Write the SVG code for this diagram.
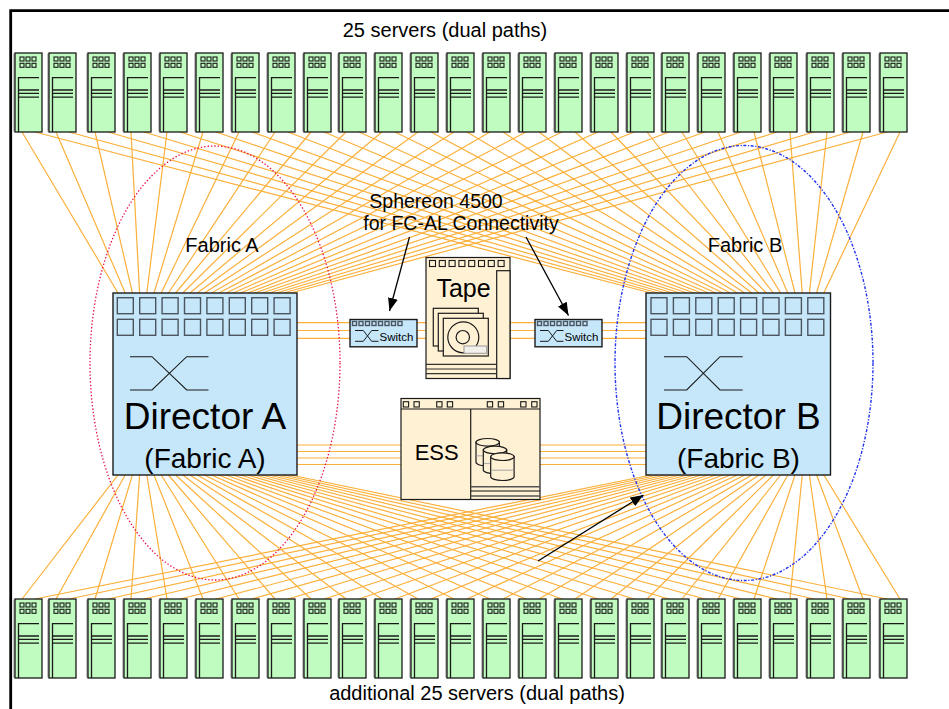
<svg xmlns="http://www.w3.org/2000/svg" xmlns:xlink="http://www.w3.org/1999/xlink" width="949" height="709" viewBox="0 0 949 709">
<style>
  text { font-family: "Liberation Sans", Arial, sans-serif; fill: #000; }
  .link { stroke: #fbb03b; stroke-width: 1.2; fill: none; }
  .srv { fill: #c0fcc0; stroke: #1a1a1a; stroke-width: 1.3; }
  .srvshade { stroke: #9a9a9a; stroke-width: 1.4; }
  .ink { fill: none; stroke: #1a1a1a; stroke-width: 1.1; }
  .dir { fill: #c6e7fa; stroke: #1a1a1a; stroke-width: 1.4; }
  .port { fill: none; stroke: #4a5560; stroke-width: 1.4; }
  .cream { fill: #fff1d4; stroke: #1a1a1a; stroke-width: 1.2; }
  .arrow { stroke: #000; stroke-width: 1.3; fill: none; marker-end: url(#head); }
  .frame { stroke: #000; stroke-width: 2.8; fill: none; }
</style>
<defs>
  <marker id="head" markerUnits="userSpaceOnUse" markerWidth="14" markerHeight="10" refX="13" refY="5" orient="auto">
    <path d="M0,0 L13,5 L0,10 z" fill="#000"/>
  </marker>
  <g id="server">
    <line class="srvshade" x1="-0.9" y1="0.5" x2="-0.9" y2="78.5"/>
    <rect class="srv" x="0" y="0" width="27" height="79"/>
    <g class="ink">
      <rect x="5" y="4" width="4" height="4"/><rect x="11" y="4" width="4" height="4"/><rect x="17" y="4" width="4" height="4"/>
      <rect x="5" y="10.3" width="4" height="4"/><rect x="11" y="10.3" width="4" height="4"/><rect x="17" y="10.3" width="4" height="4"/>
      <path d="M3.5,79 V24.7 H24 M3.5,37 H24 M3.5,40.3 H24 M3.5,44.2 H24" stroke-width="1.3"/>
    </g>
  </g>
  <g id="ports">
    <rect x="0" y="0" width="16" height="16"/><rect x="22.4" y="0" width="16" height="16"/><rect x="44.8" y="0" width="16" height="16"/><rect x="67.2" y="0" width="16" height="16"/>
    <rect x="89.6" y="0" width="16" height="16"/><rect x="112" y="0" width="16" height="16"/><rect x="134.4" y="0" width="16" height="16"/><rect x="156.8" y="0" width="16" height="16"/>
  </g>
  <g id="cylinder">
    <path class="cream" d="M0,0 V20 A11.7,3.8 0 0 0 23.4,20 V0 Z"/>
    <ellipse class="cream" cx="11.7" cy="0" rx="11.7" ry="3.8"/>
    <line x1="0.6" y1="13.5" x2="22.8" y2="13.5" stroke="#b0b0b0" stroke-width="1.2"/>
  </g>
</defs>

<rect width="949" height="709" fill="#fff"/>

<!-- page frame -->
<path class="frame" d="M10.7,709 V10.7 H949"/>

<!-- fibre links: each server to both directors, plus storage links -->
<g id="connectors" class="link">
  <!-- upper servers to Director A / Director B tops -->
  <path d="M22,132L118,293M35,132L651,293"/>
  <path d="M56,132L125.2,293M69,132L658.2,293"/>
  <path d="M95,132L132.4,293M108,132L665.4,293"/>
  <path d="M131,132L139.6,293M144,132L672.6,293"/>
  <path d="M167,132L146.8,293M180,132L679.8,293"/>
  <path d="M203,132L154,293M216,132L687,293"/>
  <path d="M239,132L161.2,293M252,132L694.2,293"/>
  <path d="M275,132L168.4,293M288,132L701.4,293"/>
  <path d="M311,132L175.6,293M324,132L708.6,293"/>
  <path d="M346,132L182.8,293M359,132L715.8,293"/>
  <path d="M382,132L190,293M395,132L723,293"/>
  <path d="M418,132L197.2,293M431,132L730.2,293"/>
  <path d="M454,132L204.4,293M467,132L737.4,293"/>
  <path d="M490,132L211.6,293M503,132L744.6,293"/>
  <path d="M526,132L218.8,293M539,132L751.8,293"/>
  <path d="M562,132L226,293M575,132L759,293"/>
  <path d="M598,132L233.2,293M611,132L766.2,293"/>
  <path d="M634,132L240.4,293M647,132L773.4,293"/>
  <path d="M669,132L247.6,293M682,132L780.6,293"/>
  <path d="M705,132L254.8,293M718,132L787.8,293"/>
  <path d="M741,132L262,293M754,132L795,293"/>
  <path d="M777,132L269.2,293M790,132L802.2,293"/>
  <path d="M814,132L276.4,293M827,132L809.4,293"/>
  <path d="M850,132L283.6,293M863,132L816.6,293"/>
  <path d="M887,132L290.8,293M900,132L823.8,293"/>
  <!-- lower servers to Director A / Director B bottoms -->
  <path d="M22,599L118,475M35,599L651,475"/>
  <path d="M56,599L125.2,475M69,599L658.2,475"/>
  <path d="M95,599L132.4,475M108,599L665.4,475"/>
  <path d="M131,599L139.6,475M144,599L672.6,475"/>
  <path d="M167,599L146.8,475M180,599L679.8,475"/>
  <path d="M203,599L154,475M216,599L687,475"/>
  <path d="M239,599L161.2,475M252,599L694.2,475"/>
  <path d="M275,599L168.4,475M288,599L701.4,475"/>
  <path d="M311,599L175.6,475M324,599L708.6,475"/>
  <path d="M346,599L182.8,475M359,599L715.8,475"/>
  <path d="M382,599L190,475M395,599L723,475"/>
  <path d="M418,599L197.2,475M431,599L730.2,475"/>
  <path d="M454,599L204.4,475M467,599L737.4,475"/>
  <path d="M490,599L211.6,475M503,599L744.6,475"/>
  <path d="M526,599L218.8,475M539,599L751.8,475"/>
  <path d="M562,599L226,475M575,599L759,475"/>
  <path d="M598,599L233.2,475M611,599L766.2,475"/>
  <path d="M634,599L240.4,475M647,599L773.4,475"/>
  <path d="M669,599L247.6,475M682,599L780.6,475"/>
  <path d="M705,599L254.8,475M718,599L787.8,475"/>
  <path d="M741,599L262,475M754,599L795,475"/>
  <path d="M777,599L269.2,475M790,599L802.2,475"/>
  <path d="M814,599L276.4,475M827,599L809.4,475"/>
  <path d="M850,599L283.6,475M863,599L816.6,475"/>
  <path d="M887,599L290.8,475M900,599L823.8,475"/>
  <!-- directors to switches and tape -->
  <path d="M297,322.7H646M297,330.5H646M297,338.3H646"/>
  <!-- directors to ESS -->
  <path d="M297,445H646M297,451.5H646M297,458H646M297,464.5H646"/>
</g>

<!-- fabric outlines -->
<ellipse id="fabric-a-outline" cx="215" cy="363" rx="125" ry="217" fill="none" stroke="#e8104a" stroke-width="1.3" stroke-dasharray="1.4 2"/>
<ellipse id="fabric-b-outline" cx="744" cy="363" rx="129" ry="217.5" fill="none" stroke="#2233ee" stroke-width="1.4" stroke-dasharray="3 1.6 1.2 1.6"/>

<!-- upper server row -->
<g id="servers-top">
  <g id="srv-t01" transform="translate(15,53)"><use xlink:href="#server"/></g>
  <g id="srv-t02" transform="translate(49,53)"><use xlink:href="#server"/></g>
  <g id="srv-t03" transform="translate(88,53)"><use xlink:href="#server"/></g>
  <g id="srv-t04" transform="translate(124,53)"><use xlink:href="#server"/></g>
  <g id="srv-t05" transform="translate(160,53)"><use xlink:href="#server"/></g>
  <g id="srv-t06" transform="translate(196,53)"><use xlink:href="#server"/></g>
  <g id="srv-t07" transform="translate(232,53)"><use xlink:href="#server"/></g>
  <g id="srv-t08" transform="translate(268,53)"><use xlink:href="#server"/></g>
  <g id="srv-t09" transform="translate(304,53)"><use xlink:href="#server"/></g>
  <g id="srv-t10" transform="translate(339,53)"><use xlink:href="#server"/></g>
  <g id="srv-t11" transform="translate(375,53)"><use xlink:href="#server"/></g>
  <g id="srv-t12" transform="translate(411,53)"><use xlink:href="#server"/></g>
  <g id="srv-t13" transform="translate(447,53)"><use xlink:href="#server"/></g>
  <g id="srv-t14" transform="translate(483,53)"><use xlink:href="#server"/></g>
  <g id="srv-t15" transform="translate(519,53)"><use xlink:href="#server"/></g>
  <g id="srv-t16" transform="translate(555,53)"><use xlink:href="#server"/></g>
  <g id="srv-t17" transform="translate(591,53)"><use xlink:href="#server"/></g>
  <g id="srv-t18" transform="translate(627,53)"><use xlink:href="#server"/></g>
  <g id="srv-t19" transform="translate(662,53)"><use xlink:href="#server"/></g>
  <g id="srv-t20" transform="translate(698,53)"><use xlink:href="#server"/></g>
  <g id="srv-t21" transform="translate(734,53)"><use xlink:href="#server"/></g>
  <g id="srv-t22" transform="translate(770,53)"><use xlink:href="#server"/></g>
  <g id="srv-t23" transform="translate(807,53)"><use xlink:href="#server"/></g>
  <g id="srv-t24" transform="translate(843,53)"><use xlink:href="#server"/></g>
  <g id="srv-t25" transform="translate(880,53)"><use xlink:href="#server"/></g>
</g>

<!-- lower server row -->
<g id="servers-bottom">
  <g id="srv-b01" transform="translate(15,599)"><use xlink:href="#server"/></g>
  <g id="srv-b02" transform="translate(49,599)"><use xlink:href="#server"/></g>
  <g id="srv-b03" transform="translate(88,599)"><use xlink:href="#server"/></g>
  <g id="srv-b04" transform="translate(124,599)"><use xlink:href="#server"/></g>
  <g id="srv-b05" transform="translate(160,599)"><use xlink:href="#server"/></g>
  <g id="srv-b06" transform="translate(196,599)"><use xlink:href="#server"/></g>
  <g id="srv-b07" transform="translate(232,599)"><use xlink:href="#server"/></g>
  <g id="srv-b08" transform="translate(268,599)"><use xlink:href="#server"/></g>
  <g id="srv-b09" transform="translate(304,599)"><use xlink:href="#server"/></g>
  <g id="srv-b10" transform="translate(339,599)"><use xlink:href="#server"/></g>
  <g id="srv-b11" transform="translate(375,599)"><use xlink:href="#server"/></g>
  <g id="srv-b12" transform="translate(411,599)"><use xlink:href="#server"/></g>
  <g id="srv-b13" transform="translate(447,599)"><use xlink:href="#server"/></g>
  <g id="srv-b14" transform="translate(483,599)"><use xlink:href="#server"/></g>
  <g id="srv-b15" transform="translate(519,599)"><use xlink:href="#server"/></g>
  <g id="srv-b16" transform="translate(555,599)"><use xlink:href="#server"/></g>
  <g id="srv-b17" transform="translate(591,599)"><use xlink:href="#server"/></g>
  <g id="srv-b18" transform="translate(627,599)"><use xlink:href="#server"/></g>
  <g id="srv-b19" transform="translate(662,599)"><use xlink:href="#server"/></g>
  <g id="srv-b20" transform="translate(698,599)"><use xlink:href="#server"/></g>
  <g id="srv-b21" transform="translate(734,599)"><use xlink:href="#server"/></g>
  <g id="srv-b22" transform="translate(770,599)"><use xlink:href="#server"/></g>
  <g id="srv-b23" transform="translate(807,599)"><use xlink:href="#server"/></g>
  <g id="srv-b24" transform="translate(843,599)"><use xlink:href="#server"/></g>
  <g id="srv-b25" transform="translate(880,599)"><use xlink:href="#server"/></g>
</g>

<!-- Director A -->
<g id="director-a">
  <rect class="dir" x="113" y="293" width="184" height="182"/>
  <use xlink:href="#ports" class="port" x="117.3" y="297.7"/>
  <use xlink:href="#ports" class="port" x="117.3" y="319.3"/>
  <path d="M130,356.7 H152 L186.7,390 H208.5 M130,390 H152 L186.7,356.7 H208.5" fill="none" stroke="#1a1a1a" stroke-width="1.1"/>
  <text x="205" y="429" font-size="37" text-anchor="middle">Director A</text>
  <text x="205" y="468" font-size="28" text-anchor="middle">(Fabric A)</text>
</g>

<!-- Director B -->
<g id="director-b">
  <rect class="dir" x="646" y="293" width="184.5" height="182"/>
  <use xlink:href="#ports" class="port" x="651" y="297.7"/>
  <use xlink:href="#ports" class="port" x="651" y="319.3"/>
  <path d="M664,356.7 H686.7 L720,390 H742.7 M664,390 H686.7 L720,356.7 H742.7" fill="none" stroke="#1a1a1a" stroke-width="1.1"/>
  <text x="738.5" y="429" font-size="37" text-anchor="middle">Director B</text>
  <text x="738.5" y="468" font-size="28" text-anchor="middle">(Fabric B)</text>
</g>

<!-- FC-AL switches -->
<g id="switch-left">
  <rect class="dir" x="350" y="319.5" width="67" height="27.3" stroke-width="1.2"/>
  <g class="port" stroke-width="1"><rect x="352.5" y="321.5" width="4" height="4"/><rect x="359" y="321.5" width="4" height="4"/><rect x="365.5" y="321.5" width="4" height="4"/><rect x="372" y="321.5" width="4" height="4"/><rect x="378.5" y="321.5" width="4" height="4"/><rect x="385" y="321.5" width="4" height="4"/><rect x="391.5" y="321.5" width="4" height="4"/><rect x="398" y="321.5" width="4" height="4"/></g>
  <path d="M355,330.5 H363.3 L371.7,341.3 H378.5 M355,341.3 H363.3 L371.7,330.5 H378.5" fill="none" stroke="#1a1a1a" stroke-width="1"/>
  <text x="379.5" y="341" font-size="11.5">Switch</text>
</g>
<g id="switch-right">
  <rect class="dir" x="535" y="319.5" width="67" height="27.3" stroke-width="1.2"/>
  <g class="port" stroke-width="1"><rect x="537.5" y="321.5" width="4" height="4"/><rect x="544" y="321.5" width="4" height="4"/><rect x="550.5" y="321.5" width="4" height="4"/><rect x="557" y="321.5" width="4" height="4"/><rect x="563.5" y="321.5" width="4" height="4"/><rect x="570" y="321.5" width="4" height="4"/><rect x="576.5" y="321.5" width="4" height="4"/><rect x="583" y="321.5" width="4" height="4"/></g>
  <path d="M540,330.5 H548.3 L556.7,341.3 H563.5 M540,341.3 H548.3 L556.7,330.5 H563.5" fill="none" stroke="#1a1a1a" stroke-width="1"/>
  <text x="564.5" y="341" font-size="11.5">Switch</text>
</g>

<!-- tape library -->
<g id="tape">
  <rect class="cream" x="426" y="257.5" width="84" height="121"/>
  <g class="ink" stroke-width="1"><rect x="429.5" y="260.5" width="6" height="6"/><rect x="439.3" y="260.5" width="6" height="6"/><rect x="449.1" y="260.5" width="6" height="6"/><rect x="458.9" y="260.5" width="6" height="6"/><rect x="468.7" y="260.5" width="6" height="6"/><rect x="478.5" y="260.5" width="6" height="6"/><rect x="488.3" y="260.5" width="6" height="6"/><rect x="498.1" y="260.5" width="6" height="6"/></g>
  <rect class="cream" x="496.7" y="270.7" width="13.3" height="107.8"/>
  <path d="M426,364.3 H496.7 M426,369 H496.7 M426,373.7 H496.7" stroke="#333" stroke-width="1.2"/>
  <text x="463.5" y="297" font-size="25" text-anchor="middle">Tape</text>
  <rect class="cream" x="433.3" y="308.3" width="45" height="37.7"/>
  <rect class="cream" x="438.3" y="313.3" width="45" height="37.7"/>
  <rect class="cream" x="443.3" y="318.3" width="45" height="37.7"/>
  <circle class="cream" cx="463.3" cy="337.3" r="15.5"/>
  <circle class="cream" cx="462.8" cy="337.2" r="6.7"/>
  <rect x="464" y="346" width="22.7" height="7.3" fill="#f2f0ea" stroke="#999" stroke-width="1"/>
</g>

<!-- ESS disk storage -->
<g id="ess">
  <rect class="cream" x="401" y="398.5" width="139" height="101"/>
  <line x1="401" y1="409" x2="540" y2="409" stroke="#1a1a1a" stroke-width="1.2"/>
  <g class="ink" stroke-width="1"><rect x="403.3" y="401.7" width="5.3" height="5.3"/><rect x="414" y="401.7" width="5.3" height="5.3"/><rect x="436.7" y="401.7" width="5.3" height="5.3"/><rect x="447.3" y="401.7" width="5.3" height="5.3"/><rect x="487.3" y="401.7" width="5.3" height="5.3"/><rect x="498.3" y="401.7" width="5.3" height="5.3"/><rect x="520.7" y="401.7" width="5.3" height="5.3"/><rect x="531.7" y="401.7" width="5.3" height="5.3"/></g>
  <line x1="470.7" y1="409" x2="470.7" y2="499.5" stroke="#1a1a1a" stroke-width="1.2"/>
  <path d="M470.7,486.7 H540 M470.7,496 H540" stroke="#555" stroke-width="1.5"/>
  <path d="M470.7,491 H540" stroke="#111" stroke-width="1.2"/>
  <text x="436.7" y="460" font-size="22" text-anchor="middle">ESS</text>
  <use xlink:href="#cylinder" x="476" y="442.3"/>
  <use xlink:href="#cylinder" x="483.3" y="450"/>
  <use xlink:href="#cylinder" x="490.7" y="456.7"/>
</g>

<!-- labels -->
<g id="labels">
  <text x="445" y="37" font-size="20" text-anchor="middle">25 servers (dual paths)</text>
  <text x="477" y="700" font-size="20" text-anchor="middle">additional 25 servers (dual paths)</text>
  <text x="222" y="252" font-size="20" text-anchor="middle">Fabric A</text>
  <text x="745" y="252" font-size="20" text-anchor="middle">Fabric B</text>
  <text x="436" y="208" font-size="19.5" text-anchor="middle">Sphereon 4500</text>
  <text x="461" y="230" font-size="19.5" text-anchor="middle">for FC-AL Connectivity</text>
</g>

<!-- callout arrows -->
<g id="callouts">
  <line class="arrow" x1="409.5" y1="237" x2="389.5" y2="311"/>
  <line class="arrow" x1="526" y1="237" x2="568.5" y2="315.5"/>
  <line class="arrow" x1="538" y1="561" x2="643.5" y2="495"/>
</g>
</svg>
